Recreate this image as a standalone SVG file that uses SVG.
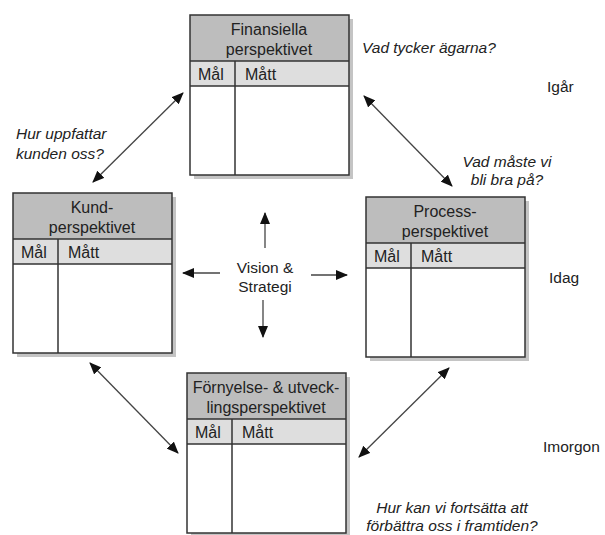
<svg xmlns="http://www.w3.org/2000/svg" width="605" height="535" viewBox="0 0 605 535">
<defs>
<marker id="ah" viewBox="0 0 12 10" refX="11" refY="5" markerWidth="12" markerHeight="10" markerUnits="userSpaceOnUse" orient="auto-start-reverse">
<path d="M0,0 L12,5 L0,10 Z" fill="#111"/>
</marker>
<g id="box">
<rect x="4" y="4" width="159" height="160" fill="#c4c4c4"/>
<rect x="0" y="0" width="159" height="160" fill="#fff"/>
<rect x="0" y="0" width="159" height="46" fill="#bdbdbd"/>
<rect x="0" y="46" width="159" height="25" fill="#dedede"/>
<rect x="0" y="0" width="159" height="160" fill="none" stroke="#333" stroke-width="1.5"/>
<line x1="0" y1="46" x2="159" y2="46" stroke="#333" stroke-width="1.5"/>
<line x1="0" y1="71" x2="159" y2="71" stroke="#333" stroke-width="1.5"/>
<line x1="45" y1="46" x2="45" y2="160" stroke="#333" stroke-width="1.5"/>
<text x="8" y="65" class="t b">Mål</text>
<text x="55" y="65" class="t b">Mått</text>
</g>
</defs>
<style>
.t{font-family:"Liberation Sans",Arial,sans-serif;font-size:15.5px;fill:#222}
.b{font-size:16px}
.c{text-anchor:middle}
.i{font-style:italic}
.a{stroke:#444;stroke-width:1.3;fill:none}
</style>
<g id="finansiella">
<use href="#box" x="190" y="15"/>
<text x="269" y="35" class="t b c">Finansiella</text>
<text x="269" y="55" class="t b c">perspektivet</text>
</g>
<g id="kund">
<use href="#box" x="13" y="193"/>
<text x="92" y="213" class="t b c">Kund-</text>
<text x="92" y="233" class="t b c">perspektivet</text>
</g>
<g id="process">
<use href="#box" x="366" y="197"/>
<text x="445" y="217" class="t b c">Process-</text>
<text x="445" y="237" class="t b c">perspektivet</text>
</g>
<g id="fornyelse">
<use href="#box" x="187" y="373"/>
<text x="266" y="393" class="t b c">Förnyelse- &amp; utveck-</text>
<text x="266" y="413" class="t b c">lingsperspektivet</text>
</g>
<g id="center">
<text x="265" y="273" class="t c">Vision &amp;</text>
<text x="265" y="292" class="t c">Strategi</text>
</g>
<g id="connectors">
<line x1="265" y1="248" x2="265" y2="213" class="a" marker-end="url(#ah)"/>
<line x1="263" y1="300" x2="263" y2="337" class="a" marker-end="url(#ah)"/>
<line x1="220" y1="273" x2="183" y2="273" class="a" marker-end="url(#ah)"/>
<line x1="311" y1="275" x2="347" y2="275" class="a" marker-end="url(#ah)"/>
<line x1="183" y1="93" x2="93" y2="182" class="a" marker-start="url(#ah)" marker-end="url(#ah)"/>
<line x1="364" y1="96" x2="452" y2="186" class="a" marker-start="url(#ah)" marker-end="url(#ah)"/>
<line x1="90" y1="363" x2="178" y2="453" class="a" marker-start="url(#ah)" marker-end="url(#ah)"/>
<line x1="449" y1="368" x2="359" y2="457" class="a" marker-start="url(#ah)" marker-end="url(#ah)"/>
</g>
<g id="labels">
<text x="362" y="53" class="t i">Vad tycker ägarna?</text>
<text x="547" y="92" class="t">Igår</text>
<text x="507" y="167" class="t i c">Vad måste vi</text>
<text x="507" y="185" class="t i c">bli bra på?</text>
<text x="16" y="139" class="t i">Hur uppfattar</text>
<text x="16" y="159" class="t i">kunden oss?</text>
<text x="549" y="283" class="t">Idag</text>
<text x="543" y="452" class="t">Imorgon</text>
<text x="452" y="513" class="t i c">Hur kan vi fortsätta att</text>
<text x="452" y="531" class="t i c">förbättra oss i framtiden?</text>
</g>
</svg>
